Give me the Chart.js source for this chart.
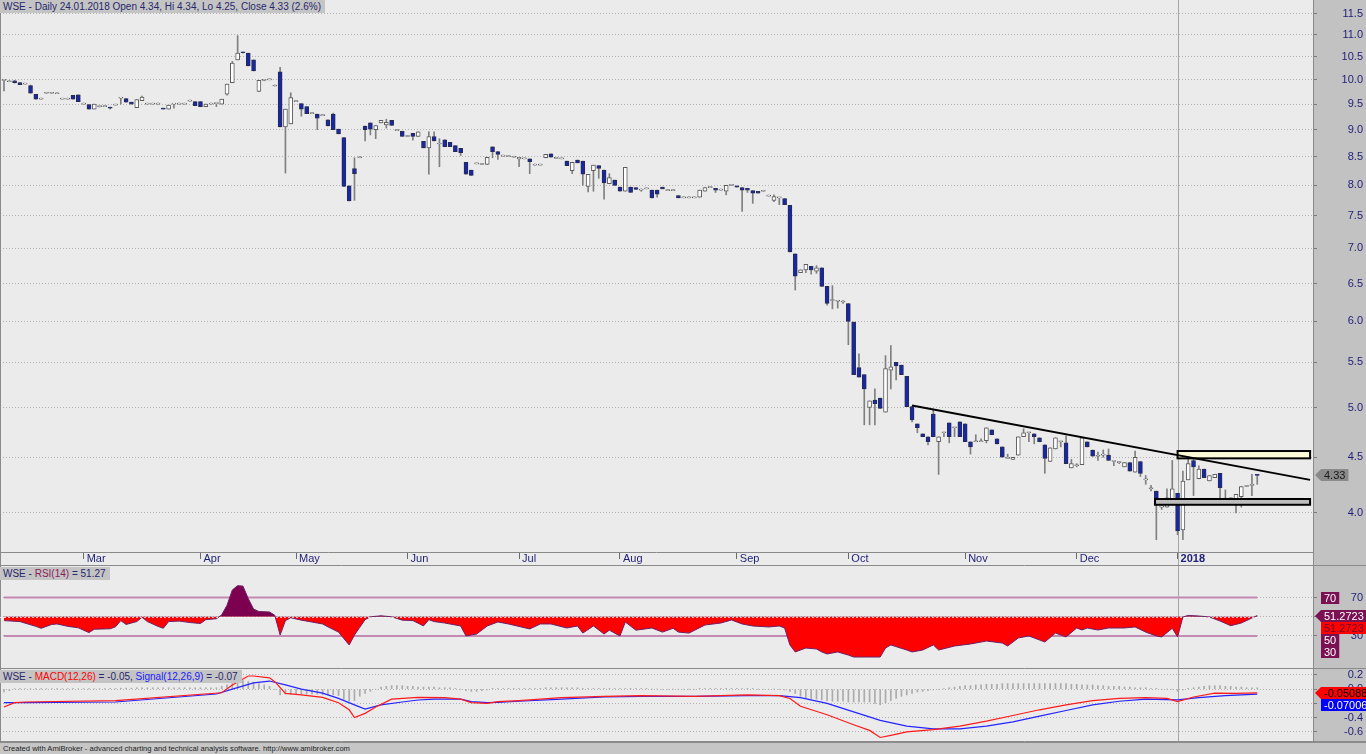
<!DOCTYPE html>
<html lang="en">

<head>
    <meta charset="UTF-8">
    <title>WSE - Daily</title>

    <!-- ChartJs CDN -->
    <script src="https://cdn.jsdelivr.net/npm/chart.js"></script>

    <style>
        html, body { margin: 0; padding: 0; }
        body {
            width: 1366px; height: 754px; position: relative; overflow: hidden;
            background: #c2c2c2; font-family: "Liberation Sans", Arial, sans-serif;
        }
        canvas { position: absolute; left: 0; }
        #mainChart { top: 0; }
        #rsiChart { top: 566px; }
        #macdChart { top: 669px; }
        .title {
            position: absolute; left: 0; padding: 0 4px 0 3px;
            background: #c4c4c4; color: #27276c; font-size: 10px; line-height: 13px; white-space: nowrap;
        }
        #footer {
            position: absolute; left: 0; top: 742px; width: 1366px; height: 12px; box-sizing: border-box;
            border-top: 1px solid #8c8c8c; background: #c6c6c6; color: #1c1c1c;
            font-size: 7.6px; line-height: 11px; padding-left: 3px; white-space: nowrap;
        }
    </style>
</head>

<body>
    <canvas id="mainChart" width="1366" height="566"></canvas>
    <canvas id="rsiChart" width="1366" height="103"></canvas>
    <canvas id="macdChart" width="1366" height="73"></canvas>

    <div class="title" style="top:0">WSE - Daily 24.01.2018 Open 4.34, Hi 4.34, Lo 4.25, Close 4.33 (2.6%)</div>
    <div class="title" style="top:567px">WSE - <span style="color:#8a1c5c">RSI(14)</span> = 51.27</div>
    <div class="title" style="top:670px">WSE - <span style="color:#ff0000">MACD(12,26)</span> = -0.05, <span style="color:#2020ff">Signal(12,26,9)</span> = -0.07</div>
    <div id="footer">Created with AmiBroker - advanced charting and technical analysis software. http://www.amibroker.com</div>

    <script type="text/javascript">
        // daily candles, one entry per session (index 0 = first bar on the chart)
        var openP = [
            9.99,9.96,9.98,9.94,9.91,9.88,9.70,9.60,9.72,9.72,
            9.71,9.60,9.60,9.68,9.69,9.50,9.49,9.40,9.45,9.45,
            9.44,9.48,9.62,9.61,9.54,9.43,9.57,9.50,9.50,9.50,
            9.42,9.40,9.50,9.50,9.50,9.56,9.55,9.55,9.45,9.50,
            9.51,9.50,9.70,9.94,10.43,10.60,10.58,10.43,9.76,9.99,
            10.00,9.87,10.17,9.05,9.11,9.55,9.51,9.45,9.31,9.30,
            9.27,9.19,9.30,9.01,8.85,7.99,8.29,8.48,9.07,9.13,
            9.00,9.13,9.09,9.18,8.98,8.97,8.87,8.93,8.87,8.78,
            8.66,8.87,8.73,8.81,8.76,8.70,8.65,8.40,8.26,8.37,
            8.36,8.36,8.68,8.59,8.51,8.50,8.49,8.46,8.46,8.46,
            8.35,8.35,8.48,8.55,8.47,8.46,8.42,8.25,8.44,8.42,
            7.98,8.25,8.34,8.26,8.03,8.09,7.97,7.90,7.97,7.96,
            7.92,7.94,7.92,7.92,7.97,7.91,7.91,7.83,7.79,7.79,
            7.79,7.80,7.90,7.96,7.95,7.92,7.90,8.00,7.99,7.96,
            7.95,7.91,7.90,7.90,7.82,7.75,7.79,7.78,7.67,6.92,
            6.65,6.69,6.74,6.67,6.72,6.46,6.27,6.26,6.25,6.23,
            5.99,5.44,5.36,5.00,5.08,5.10,4.95,5.41,5.50,5.47,
            5.34,5.01,4.83,4.73,4.70,4.93,4.65,4.74,4.84,4.79,
            4.85,4.83,4.65,4.65,4.65,4.66,4.77,4.68,4.60,4.49,
            4.48,4.52,4.70,4.74,4.73,4.69,4.62,4.46,4.58,4.65,
            4.64,4.40,4.42,4.43,4.65,4.57,4.51,4.52,4.52,4.46,
            4.45,4.41,4.45,4.36,4.46,4.29,4.21,4.19,4.05,4.05,
            4.08,4.17,3.86,4.29,4.47,4.30,4.39,4.28,4.31,4.35,
            4.12,4.13,4.07,4.14,4.23,4.24,4.34
        ];
        var highP = [
            10.00,9.96,9.99,9.94,9.91,9.89,9.70,9.60,9.72,9.72,
            9.71,9.60,9.60,9.68,9.69,9.50,9.49,9.50,9.46,9.45,
            9.44,9.48,9.62,9.61,9.54,9.59,9.66,9.50,9.50,9.50,
            9.42,9.48,9.50,9.50,9.50,9.56,9.55,9.55,9.50,9.50,
            9.51,9.60,9.91,10.40,10.98,10.60,10.58,10.43,9.99,10.01,
            10.00,9.87,10.27,9.40,9.73,9.55,9.51,9.45,9.31,9.30,
            9.27,9.19,9.32,9.01,8.85,7.99,8.48,8.48,9.07,9.13,
            9.08,9.18,9.20,9.18,8.98,8.97,8.87,8.93,8.96,8.78,
            8.96,8.96,8.83,8.81,8.76,8.70,8.65,8.40,8.26,8.37,
            8.36,8.49,8.68,8.59,8.51,8.50,8.49,8.49,8.46,8.46,
            8.35,8.35,8.54,8.55,8.47,8.46,8.42,8.40,8.44,8.42,
            8.19,8.35,8.34,8.26,8.20,8.09,7.97,8.31,7.97,7.96,
            7.94,7.94,7.92,7.92,7.97,7.91,7.91,7.83,7.79,7.79,
            7.79,7.92,7.96,7.96,7.95,7.92,8.00,8.00,7.99,7.96,
            7.95,7.91,7.90,7.90,7.82,7.84,7.79,7.78,7.67,6.92,
            6.69,6.77,6.74,6.75,6.72,6.46,6.47,6.26,6.27,6.23,
            5.99,5.60,5.36,5.07,5.20,5.10,5.58,5.70,5.50,5.47,
            5.34,5.01,4.83,4.73,4.70,4.98,4.70,4.74,4.84,4.79,
            4.85,4.83,4.65,4.72,4.68,4.79,4.77,4.68,4.60,4.53,
            4.50,4.70,4.78,4.74,4.73,4.69,4.62,4.59,4.69,4.65,
            4.71,4.48,4.44,4.69,4.65,4.57,4.55,4.57,4.58,4.46,
            4.46,4.45,4.45,4.56,4.46,4.33,4.24,4.19,4.11,4.21,
            4.47,4.17,4.37,4.55,4.50,4.42,4.39,4.33,4.34,4.35,
            4.20,4.13,4.16,4.23,4.23,4.34,4.34
        ];
        var lowP = [
            9.77,9.96,9.93,9.90,9.91,9.72,9.60,9.60,9.72,9.72,
            9.71,9.60,9.60,9.60,9.55,9.50,9.40,9.40,9.44,9.45,
            9.40,9.48,9.50,9.54,9.50,9.43,9.57,9.50,9.50,9.50,
            9.40,9.40,9.42,9.50,9.50,9.56,9.47,9.45,9.45,9.50,
            9.45,9.50,9.68,9.94,10.43,10.58,10.30,10.19,9.76,9.98,
            10.00,9.87,9.05,8.21,9.11,9.55,9.26,9.31,9.31,9.00,
            9.27,9.07,9.00,8.92,7.98,7.74,7.75,8.48,8.79,8.90,
            8.83,9.13,9.03,9.08,8.98,8.87,8.87,8.80,8.87,8.66,
            8.19,8.79,8.32,8.68,8.68,8.59,8.52,8.19,8.17,8.37,
            8.36,8.36,8.48,8.45,8.51,8.50,8.49,8.32,8.46,8.20,
            8.35,8.35,8.48,8.49,8.47,8.46,8.34,8.20,8.39,8.00,
            7.89,7.90,8.12,7.77,8.03,8.00,7.90,7.90,7.88,7.93,
            7.90,7.94,7.79,7.80,7.94,7.91,7.91,7.79,7.79,7.79,
            7.79,7.80,7.90,7.96,7.88,7.92,7.84,8.00,7.97,7.57,
            7.88,7.70,7.87,7.90,7.82,7.73,7.68,7.68,6.95,6.41,
            6.65,6.65,6.63,6.64,6.46,6.21,6.16,6.17,6.23,5.71,
            5.36,5.33,4.82,4.82,4.82,4.99,4.95,5.20,5.30,5.36,
            5.01,4.85,4.74,4.70,4.62,4.70,4.34,4.70,4.64,4.70,
            4.70,4.65,4.53,4.65,4.65,4.64,4.72,4.63,4.50,4.49,
            4.48,4.52,4.70,4.65,4.63,4.65,4.35,4.46,4.58,4.60,
            4.44,4.40,4.41,4.43,4.60,4.51,4.47,4.50,4.47,4.42,
            4.44,4.41,4.37,4.36,4.32,4.25,4.19,3.78,4.03,4.05,
            4.08,3.82,3.78,4.29,4.15,4.30,4.31,4.28,4.31,4.12,
            4.12,4.10,4.00,4.05,4.23,4.15,4.25
        ];
        var closeP = [
            10.00,9.96,9.94,9.90,9.91,9.72,9.60,9.60,9.72,9.72,
            9.71,9.60,9.60,9.60,9.55,9.50,9.40,9.50,9.45,9.45,
            9.42,9.48,9.62,9.54,9.50,9.59,9.64,9.50,9.50,9.50,
            9.40,9.48,9.50,9.50,9.50,9.56,9.47,9.45,9.50,9.50,
            9.51,9.60,9.91,10.36,10.58,10.59,10.30,10.19,9.99,10.00,
            10.00,9.87,9.05,9.40,9.63,9.55,9.40,9.31,9.31,9.22,
            9.27,9.07,9.00,8.92,7.98,7.74,8.20,8.48,9.00,9.01,
            9.08,9.18,9.14,9.08,8.98,8.87,8.87,8.87,8.96,8.66,
            8.87,8.79,8.73,8.68,8.68,8.59,8.57,8.19,8.17,8.37,
            8.36,8.49,8.59,8.54,8.51,8.50,8.49,8.49,8.46,8.41,
            8.35,8.35,8.54,8.49,8.47,8.46,8.34,8.40,8.39,8.19,
            8.19,8.35,8.29,8.04,8.13,8.00,7.90,8.31,7.88,7.93,
            7.92,7.94,7.79,7.85,7.94,7.91,7.91,7.79,7.79,7.79,
            7.79,7.92,7.96,7.96,7.92,7.92,8.00,8.00,7.97,7.92,
            7.92,7.87,7.87,7.90,7.82,7.81,7.79,7.68,6.95,6.60,
            6.69,6.77,6.69,6.72,6.46,6.23,6.27,6.26,6.25,6.00,
            5.36,5.33,5.20,5.07,5.04,4.99,5.43,5.45,5.46,5.36,
            5.01,4.87,4.79,4.70,4.65,4.70,4.70,4.74,4.70,4.79,
            4.70,4.65,4.60,4.65,4.65,4.79,4.72,4.63,4.50,4.49,
            4.50,4.70,4.74,4.74,4.70,4.65,4.49,4.59,4.69,4.65,
            4.44,4.44,4.42,4.69,4.60,4.51,4.51,4.52,4.47,4.46,
            4.45,4.45,4.37,4.50,4.35,4.29,4.21,4.11,4.05,4.13,
            4.21,3.85,4.28,4.44,4.41,4.39,4.31,4.33,4.34,4.22,
            4.12,4.10,4.16,4.23,4.23,4.24,4.33
        ];

        // month separators on the time axis (bar index of first session)
        var monthIdx = [15, 37, 55, 76, 97, 116, 138, 159, 181, 202, 221];
        var monthNames = ["Mar", "Apr", "May", "Jun", "Jul", "Aug", "Sep", "Oct", "Nov", "Dec", "2018"];
        var yearIdx = 221;

        var priceTicks = [4.0, 4.5, 5.0, 5.5, 6.0, 6.5, 7.0, 7.5, 8.0, 8.5, 9.0, 9.5, 10.0, 10.5, 11.0, 11.5];
        var rsiTicks = [30, 50, 70];
        var macdTicks = [0.2, 0.0, -0.2, -0.4, -0.6];

        // drawn objects: trend line and two horizontal zones
        var trendX = [171, 245.95];
        var trendY = [5.02, 4.29];
        var zoneFrom = [221, 216.75];
        var zoneTo = [245.95, 245.95];
        var zoneLo = [4.49, 4.07];
        var zoneHi = [4.56, 4.12];

        // RSI(14) (bar index, value)
        var rsiIdx = [0,3,6,7,9,10,12,14,16,17,20,21,22,23,25,26,27,29,30,31,33,35,37,38,40,41,42,43,44,45,46,47,48,50,51,52,53,54,56,58,60,61,63,65,66,67,68,69,71,73,75,77,79,80,81,83,
            86,87,89,91,93,95,99,101,103,106,108,109,111,113,114,116,117,119,122,124,126,127,129,132,135,137,139,141,144,146,147,148,149,151,153,154,155,157,159,160,163,165,166,167,170,171,173,175,176,179,182,185,188,189,191,193,196,198,200,202,203,204,206,208,211,213,215,217,218,220,221,222,223,225,227,229,231,233,235,236];
        var rsiVal = [46,45,40,38,42,42.5,40,38.5,33.5,37,37.5,39.5,46,42,45,49.5,45,40,38,45,45.5,44,43,47,48,52,62,78,82.5,82,69,58,55.5,55,51.5,31,46,49,46.5,44.5,42.5,39.5,34,20.6,31,39,47,50,51,50,46.5,46,40.5,47,45,43.5,
            40.4,30,32,40.4,44.6,42.5,37.3,42.5,42.5,38.3,40.4,33,40.4,32,36,30,44.6,36,38.3,34,38,34,33,41.4,43.5,46.7,42.5,40.4,39.4,40.4,38.3,20.6,13.3,17.4,16.4,13.3,11.2,13.3,10,8,8,8,17.4,20.6,15.3,13.3,15.3,20.6,15.3,19.5,21.6,24.7,22.6,19.5,27.9,30,23.7,33,29,38.3,36.2,38.3,36.2,38.3,38.3,39.4,34,30,29,38,29,49.8,51.4,50.8,49.8,45.6,40.7,43.5,48.7,51.27];

        var macdIdx = [0,2,4,21,41,43,46,47,50,51,53,56,60,63,65,66,68,70,73,78,83,86,88,91,93,97,105,113,120,130,140,146,148,150,155,160,163,165,167,170,175,180,185,190,195,200,205,210,215,219,221,224,228,232,236];
        var macdVal = [-0.25,-0.19,-0.18,-0.16,-0.05,0.06,0.186,0.186,0.16,0.106,-0.06,-0.08,-0.115,-0.19,-0.29,-0.4,-0.34,-0.25,-0.14,-0.115,-0.12,-0.14,-0.19,-0.2,-0.176,-0.16,-0.12,-0.1,-0.09,-0.1,-0.08,-0.09,-0.13,-0.24,-0.36,-0.5,-0.58,-0.68,-0.65,-0.6,-0.57,-0.52,-0.45,-0.37,-0.29,-0.22,-0.16,-0.13,-0.12,-0.13,-0.175,-0.11,-0.055,-0.06,-0.0509];
        var signalIdx = [0,4,21,40,43,47,50,53,56,60,63,66,68,71,75,78,81,86,88,91,93,97,105,113,120,130,140,146,150,155,160,165,170,175,180,185,190,195,200,205,210,215,221,225,230,236];
        var signalVal = [-0.19,-0.19,-0.18,-0.068,0.0,0.09,0.115,0.06,0.0,-0.056,-0.13,-0.22,-0.28,-0.22,-0.18,-0.152,-0.14,-0.14,-0.176,-0.19,-0.185,-0.17,-0.14,-0.11,-0.1,-0.1,-0.09,-0.09,-0.12,-0.2,-0.32,-0.44,-0.52,-0.56,-0.56,-0.52,-0.46,-0.38,-0.3,-0.22,-0.17,-0.14,-0.15,-0.12,-0.09,-0.0701];
        // histogram, one per bar
        var histV = [
            -0.04,-0.02,0.005,0.005,0.005,0.005,0.005,0.005,0.005,0.005,
            0.005,0.005,0.005,0.005,0.005,0.005,0.005,0.005,0.005,0.005,
            0.01,0.01,0.015,0.015,0.015,0.02,0.02,0.02,0.02,0.02,
            0.02,0.02,0.02,0.02,0.02,0.02,0.02,0.02,0.02,0.02,
            0.02,0.04,0.06,0.08,0.1,0.12,0.11,0.1,0.08,0.06,
            0.04,0.0,-0.08,-0.07,-0.07,-0.07,-0.07,-0.07,-0.07,-0.07,
            -0.08,-0.08,-0.08,-0.09,-0.14,-0.17,-0.16,-0.1,-0.06,-0.03,
            0.0,0.03,0.04,0.05,0.05,0.05,0.04,0.04,0.03,0.03,
            0.03,0.03,0.02,0.02,0.02,0.01,0.0,-0.02,-0.03,-0.03,
            -0.02,-0.01,0.01,0.01,0.01,0.01,0.01,0.01,0.01,0.01,
            0.01,0.01,0.02,0.02,0.02,0.02,0.02,0.02,0.02,0.01,
            0.01,0.01,0.01,0.01,0.01,0.01,0.01,0.01,0.01,0.01,
            0.01,0.01,0.0,0.0,0.0,0.0,0.0,0.0,0.0,0.0,
            0.0,0.01,0.01,0.01,0.01,0.01,0.01,0.01,0.01,0.01,
            0.01,0.01,0.0,0.0,0.0,0.0,0.0,-0.01,-0.03,-0.06,
            -0.1,-0.12,-0.13,-0.14,-0.15,-0.16,-0.17,-0.17,-0.17,-0.18,
            -0.18,-0.18,-0.18,-0.18,-0.2,-0.22,-0.19,-0.16,-0.13,-0.1,
            -0.08,-0.06,-0.04,-0.03,-0.02,-0.01,0.0,0.01,0.02,0.03,
            0.04,0.05,0.05,0.06,0.06,0.07,0.07,0.07,0.08,0.08,
            0.08,0.08,0.08,0.08,0.08,0.08,0.08,0.08,0.08,0.08,
            0.08,0.07,0.07,0.06,0.06,0.06,0.05,0.05,0.04,0.04,
            0.04,0.03,0.03,0.02,0.02,0.02,0.01,0.01,0.0,0.0,
            0.0,-0.03,-0.01,0.01,0.02,0.03,0.04,0.05,0.05,0.05,
            0.04,0.04,0.03,0.03,0.02,0.02,0.02
        ];

        var lastClose = 4.33, lastRsi = 51.2723, lastMacd = -0.050884, lastSignal = -0.070067;

        // ---- layout / look ----
        var X_MIN = -0.75, X_MAX = 246.5;   // visible bar range
        var AXIS_W = 53;                    // right axis strip
        var PLOT_BG = "#ebebeb", AXIS_BG = "#c2c2c2", LABEL = "#1e1e78";
        var FONT = '"Liberation Sans", Arial, sans-serif';

        Chart.defaults.font.family = FONT;
        Chart.defaults.font.size = 11;
        Chart.defaults.animation = false;
        Chart.defaults.plugins.legend.display = false;
        Chart.defaults.plugins.tooltip.enabled = false;

        function pts(xs, ys) {
            return xs.map(function (x, k) { return { x: x, y: ys[k] }; });
        }
        var barIdx = closeP.map(function (_, i) { return i; });

        // background, year marker and frame for every pane
        var paneFrame = {
            id: "paneFrame",
            beforeDraw: function (chart) {
                var ctx = chart.ctx, a = chart.chartArea;
                ctx.save();
                ctx.fillStyle = AXIS_BG;
                ctx.fillRect(0, 0, chart.width, chart.height);
                ctx.fillStyle = PLOT_BG;
                ctx.fillRect(0, 0, a.right, chart.height);
                ctx.restore();
            },
            beforeDatasetsDraw: function (chart) {
                var ctx = chart.ctx;
                var x = Math.round(chart.scales.x.getPixelForValue(yearIdx)) + 0.5;
                ctx.save();
                ctx.strokeStyle = "#a6a6a6";
                ctx.lineWidth = 1;
                ctx.beginPath();
                ctx.moveTo(x, 0);
                ctx.lineTo(x, chart.height);
                ctx.stroke();
                ctx.restore();
            },
            afterDraw: function (chart, args, opts) {
                var ctx = chart.ctx, a = chart.chartArea;
                ctx.save();
                ctx.strokeStyle = "#8a8a8a";
                ctx.lineWidth = 1;
                ctx.beginPath();
                ctx.moveTo(a.right + 0.5, 0); ctx.lineTo(a.right + 0.5, chart.height);
                ctx.moveTo(0.5, 0); ctx.lineTo(0.5, chart.height);
                ctx.moveTo(0, chart.height - 0.5); ctx.lineTo(chart.width, chart.height - 0.5);
                if (opts.band) {
                    ctx.moveTo(0, a.bottom + 0.5); ctx.lineTo(a.right, a.bottom + 0.5);
                }
                ctx.stroke();
                ctx.restore();
                if (opts.dotted50) {
                    var y = Math.round(chart.scales.y.getPixelForValue(50)) + 0.5;
                    ctx.save();
                    ctx.strokeStyle = "rgba(255,255,255,0.75)";
                    ctx.setLineDash([2, 2]);
                    ctx.beginPath();
                    ctx.moveTo(a.left, y); ctx.lineTo(chart.scales.x.getPixelForValue(barIdx.length - 1), y);
                    ctx.stroke();
                    ctx.restore();
                }
                if (opts.boxes) drawValueBoxes(chart, opts.boxes);
            }
        };

        // value tags on the right axis, pushed down so they never overlap
        function drawValueBoxes(chart, items) {
            var ctx = chart.ctx, ys = chart.scales.y, left = chart.chartArea.right;
            var H = 12, prev = -1e9;
            ctx.save();
            ctx.font = "11px " + FONT;
            ctx.textBaseline = "middle";
            items.map(function (it) { return Object.assign({ py: ys.getPixelForValue(it.value) }, it); })
                .sort(function (p, q) { return p.py - q.py; })
                .forEach(function (it) {
                    var cy = Math.round(Math.max(it.py, prev + H));
                    prev = cy;
                    var w = ctx.measureText(it.text).width + 6;
                    var x0 = left + 8;
                    ctx.fillStyle = it.bg;
                    ctx.beginPath();
                    if (it.arrow) {
                        ctx.moveTo(left + 2, cy);
                        ctx.lineTo(x0, cy - H / 2);
                        ctx.lineTo(x0 + w, cy - H / 2);
                        ctx.lineTo(x0 + w, cy + H / 2);
                        ctx.lineTo(x0, cy + H / 2);
                        ctx.closePath();
                    } else {
                        ctx.rect(x0, cy - H / 2, w, H);
                    }
                    ctx.fill();
                    ctx.fillStyle = it.fg;
                    ctx.fillText(it.text, x0 + 3, cy + 0.5);
                });
            ctx.restore();
        }

        // rectangles drawn right after the candle bodies, under the trend line
        var zonesPlugin = {
            id: "zones",
            afterDatasetDraw: function (chart, args) {
                if (args.index !== 1) return;
                var ctx = chart.ctx, xs = chart.scales.x, ys = chart.scales.y;
                var fills = ["#fbfbd8", "#bdbdbd"];
                ctx.save();
                for (var k = 0; k < zoneFrom.length; k++) {
                    var x0 = xs.getPixelForValue(zoneFrom[k]), x1 = xs.getPixelForValue(zoneTo[k]);
                    var y0 = ys.getPixelForValue(zoneHi[k]), y1 = ys.getPixelForValue(zoneLo[k]);
                    ctx.fillStyle = fills[k];
                    ctx.fillRect(x0, y0, x1 - x0, y1 - y0);
                    ctx.strokeStyle = "#000";
                    ctx.lineWidth = 2;
                    ctx.strokeRect(x0, y0, x1 - x0, y1 - y0);
                }
                ctx.restore();
            }
        };

        function rightAxis(min, max, tickList, fmt, type) {
            return {
                type: type || "linear",
                position: "right",
                min: min,
                max: max,
                // fixed strip width, and no extra room above/below the plot
                afterFit: function (s) { s.width = AXIS_W; s.paddingTop = 0; s.paddingBottom = 0; },
                afterBuildTicks: function (s) { s.ticks = tickList.map(function (v) { return { value: v }; }); },
                grid: { color: "#b2b2b2", tickColor: "#7a7a7a", tickLength: 4 },
                border: { display: false, dash: [1, 2] },
                ticks: { mirror: true, padding: 50, autoSkip: false, color: LABEL, callback: fmt }
            };
        }

        function hiddenX() {
            return { type: "linear", min: X_MIN, max: X_MAX, offset: false, display: false, grid: { offset: false } };
        }

        // ---- main price pane ----
        new Chart(document.getElementById("mainChart"), {
            type: "bar",
            data: {
                datasets: [
                    {
                        type: "line",
                        data: pts(trendX, trendY),
                        borderColor: "#000",
                        borderWidth: 2,
                        pointRadius: 0,
                        order: 0
                    },
                    {
                        data: barIdx.map(function (i) { return { x: i, y: [openP[i], closeP[i]] }; }),
                        backgroundColor: function (c) { return closeP[c.dataIndex] < openP[c.dataIndex] ? "#1428a8" : "#ffffff"; },
                        borderColor: function (c) { return closeP[c.dataIndex] < openP[c.dataIndex] ? "#2a2a50" : "#5c5c5c"; },
                        borderWidth: 1,
                        borderSkipped: false,
                        barThickness: 4,
                        minBarLength: 1,
                        grouped: false,
                        order: 1
                    },
                    {
                        data: barIdx.map(function (i) { return { x: i, y: [lowP[i], highP[i]] }; }),
                        backgroundColor: "#808080",
                        barThickness: 1,
                        minBarLength: 1,
                        grouped: false,
                        order: 2
                    }
                ]
            },
            options: {
                responsive: false,
                layout: { padding: 0 },
                scales: {
                    x: {
                        type: "linear",
                        min: X_MIN,
                        max: X_MAX,
                        offset: false,
                        afterFit: function (s) { s.height = 14; s.paddingLeft = 0; s.paddingRight = 0; },
                        afterBuildTicks: function (s) { s.ticks = monthIdx.map(function (v) { return { value: v }; }); },
                        grid: { drawOnChartArea: false, tickLength: 7, tickColor: "#6a6a6a", offset: false },
                        border: { display: false },
                        ticks: {
                            autoSkip: false, maxRotation: 0, minRotation: 0,
                            align: "start", labelOffset: 3, padding: -7, color: LABEL,
                            font: function (c) { return { size: 11, weight: monthNames[c.index] === "2018" ? "bold" : "normal" }; },
                            callback: function (v, i) { return monthNames[i]; }
                        }
                    },
                    y: rightAxis(3.683, 11.84, priceTicks, function (v) { return Number(v).toFixed(1); }, "logarithmic")
                },
                plugins: {
                    paneFrame: {
                        band: true,
                        boxes: [{ value: lastClose, text: lastClose.toFixed(2), bg: "#8a8a8a", fg: "#1a1a1a", arrow: true }]
                    }
                }
            },
            plugins: [paneFrame, zonesPlugin]
        });

        // ---- RSI pane ----
        var rsiLevelX = [0, barIdx.length - 1];
        new Chart(document.getElementById("rsiChart"), {
            type: "line",
            data: {
                datasets: [
                    {
                        data: pts(rsiIdx, rsiVal),
                        borderColor: "#6e2064",
                        borderWidth: 1,
                        pointRadius: 0,
                        fill: { value: 50, above: "#7d0050", below: "#ff0000" },
                        order: 1
                    },
                    { data: pts(rsiLevelX, [70, 70]), borderColor: "#c48ab2", borderWidth: 2, pointRadius: 0, order: 2 },
                    { data: pts(rsiLevelX, [30, 30]), borderColor: "#c48ab2", borderWidth: 2, pointRadius: 0, order: 2 }
                ]
            },
            options: {
                responsive: false,
                layout: { padding: 0 },
                scales: {
                    x: hiddenX(),
                    y: rightAxis(-4.5, 103, rsiTicks, function (v) { return String(v); })
                },
                plugins: {
                    paneFrame: {
                        dotted50: true,
                        boxes: [
                            { value: 70, text: "70", bg: "#7b1052", fg: "#ffffff" },
                            { value: lastRsi, text: lastRsi.toFixed(4), bg: "#7b1052", fg: "#ffffff", arrow: true },
                            { value: lastRsi, text: lastRsi.toFixed(4), bg: "#ff0000", fg: "#6a0030" },
                            { value: 50, text: "50", bg: "#7b1052", fg: "#ffffff" },
                            { value: 30, text: "30", bg: "#7b1052", fg: "#ffffff" }
                        ]
                    }
                }
            },
            plugins: [paneFrame]
        });

        // ---- MACD pane ----
        new Chart(document.getElementById("macdChart"), {
            type: "bar",
            data: {
                datasets: [
                    {
                        type: "line", data: pts(macdIdx, macdVal),
                        borderColor: "#ff1a1a", borderWidth: 1.2, pointRadius: 0, order: 1
                    },
                    {
                        type: "line", data: pts(signalIdx, signalVal),
                        borderColor: "#2424ff", borderWidth: 1.2, pointRadius: 0, order: 2
                    },
                    {
                        data: barIdx.map(function (i) { return { x: i, y: histV[i] }; }),
                        backgroundColor: "#ababab", barThickness: 1, grouped: false, order: 3
                    }
                ]
            },
            options: {
                responsive: false,
                layout: { padding: 0 },
                scales: {
                    x: hiddenX(),
                    y: rightAxis(-0.7437, 0.2845, macdTicks, function (v) { return Number(v).toFixed(1); })
                },
                plugins: {
                    paneFrame: {
                        boxes: [
                            { value: lastMacd, text: lastMacd.toFixed(6), bg: "#ff0000", fg: "#000000", arrow: true },
                            { value: lastSignal, text: lastSignal.toFixed(6), bg: "#0000ff", fg: "#ffffff" }
                        ]
                    }
                }
            },
            plugins: [paneFrame]
        });
    </script>
</body>

</html>
